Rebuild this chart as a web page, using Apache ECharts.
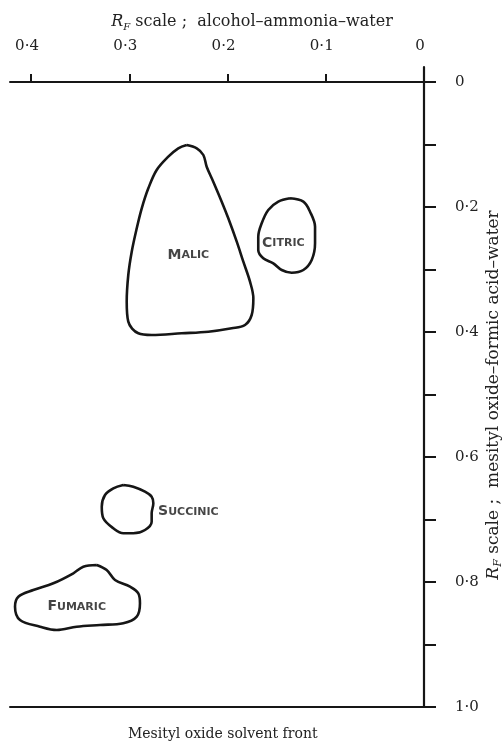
<!DOCTYPE html>
<html>
<head>
<meta charset="utf-8">
<script src="https://cdn.jsdelivr.net/npm/echarts@6/dist/echarts.min.js"></script>
<style>html,body{margin:0;padding:0;background:#fff}#c{width:504px;height:749px}</style>
</head>
<body>
<div id="c"></div>
<script>
// Tick values
const xTickValues = [0, 0.1, 0.2, 0.3, 0.4];
const yTickValues = [0, 0.1, 0.2, 0.3, 0.4, 0.5, 0.6, 0.7, 0.8, 0.9, 1.0];
const yLabelValues = [0, 0.2, 0.4, 0.6, 0.8, 1.0];

// Spot outlines: [Rf alcohol-ammonia-water, Rf mesityl oxide-formic acid-water]
const malic = [[0.2415,0.1008],[0.2313,0.1061],[0.2246,0.1168],[0.2212,0.1355],[0.2145,0.1595],[0.2059,0.1915],[0.1992,0.2181],[0.1906,0.2555],[0.1839,0.2875],[0.1771,0.3195],[0.1737,0.3461],[0.1754,0.3728],[0.1822,0.3888],[0.1957,0.3941],[0.2195,0.3995],[0.2466,0.4021],[0.2772,0.4048],[0.2908,0.4021],[0.3010,0.3835],[0.3026,0.3515],[0.3010,0.3088],[0.2975,0.2715],[0.2924,0.2341],[0.2873,0.2021],[0.2806,0.1701],[0.2721,0.1408],[0.2603,0.1195],[0.2501,0.1061]];
const citric = [[0.1364,0.1861],[0.1228,0.1915],[0.1160,0.2075],[0.1109,0.2315],[0.1109,0.2581],[0.1143,0.2848],[0.1228,0.3008],[0.1347,0.3051],[0.1448,0.3008],[0.1534,0.2901],[0.1636,0.2821],[0.1687,0.2688],[0.1687,0.2475],[0.1652,0.2261],[0.1585,0.2048],[0.1483,0.1915]];
const succinic = [[0.3061,0.6448],[0.2959,0.6475],[0.2840,0.6555],[0.2772,0.6635],[0.2755,0.6741],[0.2772,0.6901],[0.2772,0.7035],[0.2840,0.7168],[0.2959,0.7221],[0.3061,0.7221],[0.3162,0.7141],[0.3264,0.6981],[0.3280,0.6795],[0.3247,0.6608],[0.3162,0.6501]];
const fumaric = [[0.3331,0.7728],[0.3230,0.7808],[0.3145,0.7968],[0.2992,0.8075],[0.2908,0.8181],[0.2891,0.8341],[0.2924,0.8555],[0.3061,0.8661],[0.3298,0.8688],[0.3535,0.8715],[0.3738,0.8768],[0.3908,0.8715],[0.4112,0.8608],[0.4163,0.8395],[0.4129,0.8235],[0.3977,0.8128],[0.3773,0.8021],[0.3569,0.7861],[0.3468,0.7755]];

// Spot labels
const spotNames = ['Malic', 'Citric', 'Succinic', 'Fumaric'];
const spotLabelPos = [[0.2399,0.2768],[0.1432,0.2581],[0.2707,0.6875],[0.3535,0.8395]];
const spotLabelAlign = ['center','center','left','center'];

const outlines = [malic, citric, succinic, fumaric];

const ink = '#161616';
const serif = 'DejaVu Serif';

function fmt(v) {
  if (Math.abs(v) < 1e-9) return '0';
  return v.toFixed(1).replace('.', '\u00b7');
}
function smallCaps(name) {
  return '{c|' + name[0].toUpperCase() + '}{s|' + name.slice(1).toUpperCase() + '}';
}

const xMin = -0.0112, xMax = 0.4214;

const series = outlines.map(pts => ({
  type: 'line',
  data: pts.concat([pts[0]]),
  smooth: 0.35,
  showSymbol: false,
  symbol: 'none',
  silent: true,
  lineStyle: { color: ink, width: 2.6 },
  animation: false
}));

series.push({
  type: 'scatter',
  symbolSize: 0,
  silent: true,
  animation: false,
  data: spotNames.map((n, i) => ({
    value: spotLabelPos[i],
    label: { align: spotLabelAlign[i] }
  })),
  label: {
    show: true,
    position: [0, 0],
    verticalAlign: 'middle',
    color: ink,
    formatter: p => smallCaps(spotNames[p.dataIndex]),
    rich: {
      c: { fontFamily: 'DejaVu Sans', fontSize: 14, fontWeight: 'bold', color: ink },
      s: { fontFamily: 'DejaVu Sans', fontSize: 11, fontWeight: 'bold', color: ink }
    }
  }
});

const chart = echarts.init(document.getElementById('c'), null, { renderer: 'canvas' });
chart.setOption({
  backgroundColor: '#fff',
  animation: false,
  title: [
    {
      text: '{r|R}{f|F} scale ;  alcohol\u2013ammonia\u2013water',
      left: 'center',
      top: 7,
      textStyle: {
        fontFamily: serif, fontSize: 16, fontWeight: 'normal', color: '#222', lineHeight: 20,
        rich: {
          r: { fontFamily: serif, fontSize: 16, fontStyle: 'italic', color: '#222', lineHeight: 20 },
          f: { fontFamily: serif, fontSize: 10, fontStyle: 'italic', color: '#222', lineHeight: 10, verticalAlign: 'bottom' }
        }
      }
    },
    {
      text: 'Mesityl oxide solvent front',
      left: 123,
      top: 722,
      textStyle: { fontFamily: serif, fontSize: 14, fontWeight: 'normal', color: '#222' }
    }
  ],
  grid: { left: 10, right: 69, top: 67, bottom: 42, containLabel: false, outerBoundsMode: 'none' },
  xAxis: [
    {
      type: 'value', position: 'top', inverse: true, min: xMin, max: xMax,
      axisLine: { show: true, onZero: true, lineStyle: { color: ink, width: 2 } },
      axisTick: { show: true, customValues: xTickValues, length: 8, inside: false, lineStyle: { color: ink, width: 2 } },
      axisLabel: { show: true, customValues: xTickValues, formatter: fmt, margin: 13, padding: [0, 8, 0, 0],
        fontFamily: serif, fontSize: 15, color: '#222' },
      splitLine: { show: false }
    },
    {
      type: 'value', position: 'bottom', inverse: true, min: xMin, max: xMax,
      axisLine: { show: true, onZero: false, lineStyle: { color: ink, width: 2 } },
      axisTick: { show: false }, axisLabel: { show: false }, splitLine: { show: false }
    }
  ],
  yAxis: {
    type: 'value', position: 'right', inverse: true, min: -0.024, max: 1.0,
    axisLine: { show: true, onZero: true, onZeroAxisIndex: 0, lineStyle: { color: ink, width: 2.2 } },
    axisTick: { show: true, customValues: yTickValues, length: 12, lineStyle: { color: ink, width: 2 } },
    axisLabel: { show: true, customValues: yLabelValues, formatter: fmt, margin: 20,
      fontFamily: serif, fontSize: 15, color: '#222' },
    splitLine: { show: false },
    name: '{r|R}{f|F} scale ;  mesityl oxide\u2013formic acid\u2013water',
    nameLocation: 'middle',
    nameRotate: 90,
    nameGap: 49,
    nameMoveOverlap: false,
    nameTextStyle: {
      fontFamily: serif, fontSize: 17, color: '#222', lineHeight: 20, padding: [0, 16, 0, 0],
      rich: {
        r: { fontFamily: serif, fontSize: 17, fontStyle: 'italic', color: '#222', lineHeight: 20 },
        f: { fontFamily: serif, fontSize: 11, fontStyle: 'italic', color: '#222', lineHeight: 10, verticalAlign: 'bottom' }
      }
    }
  },
  series: series
});
</script>
</body>
</html>
